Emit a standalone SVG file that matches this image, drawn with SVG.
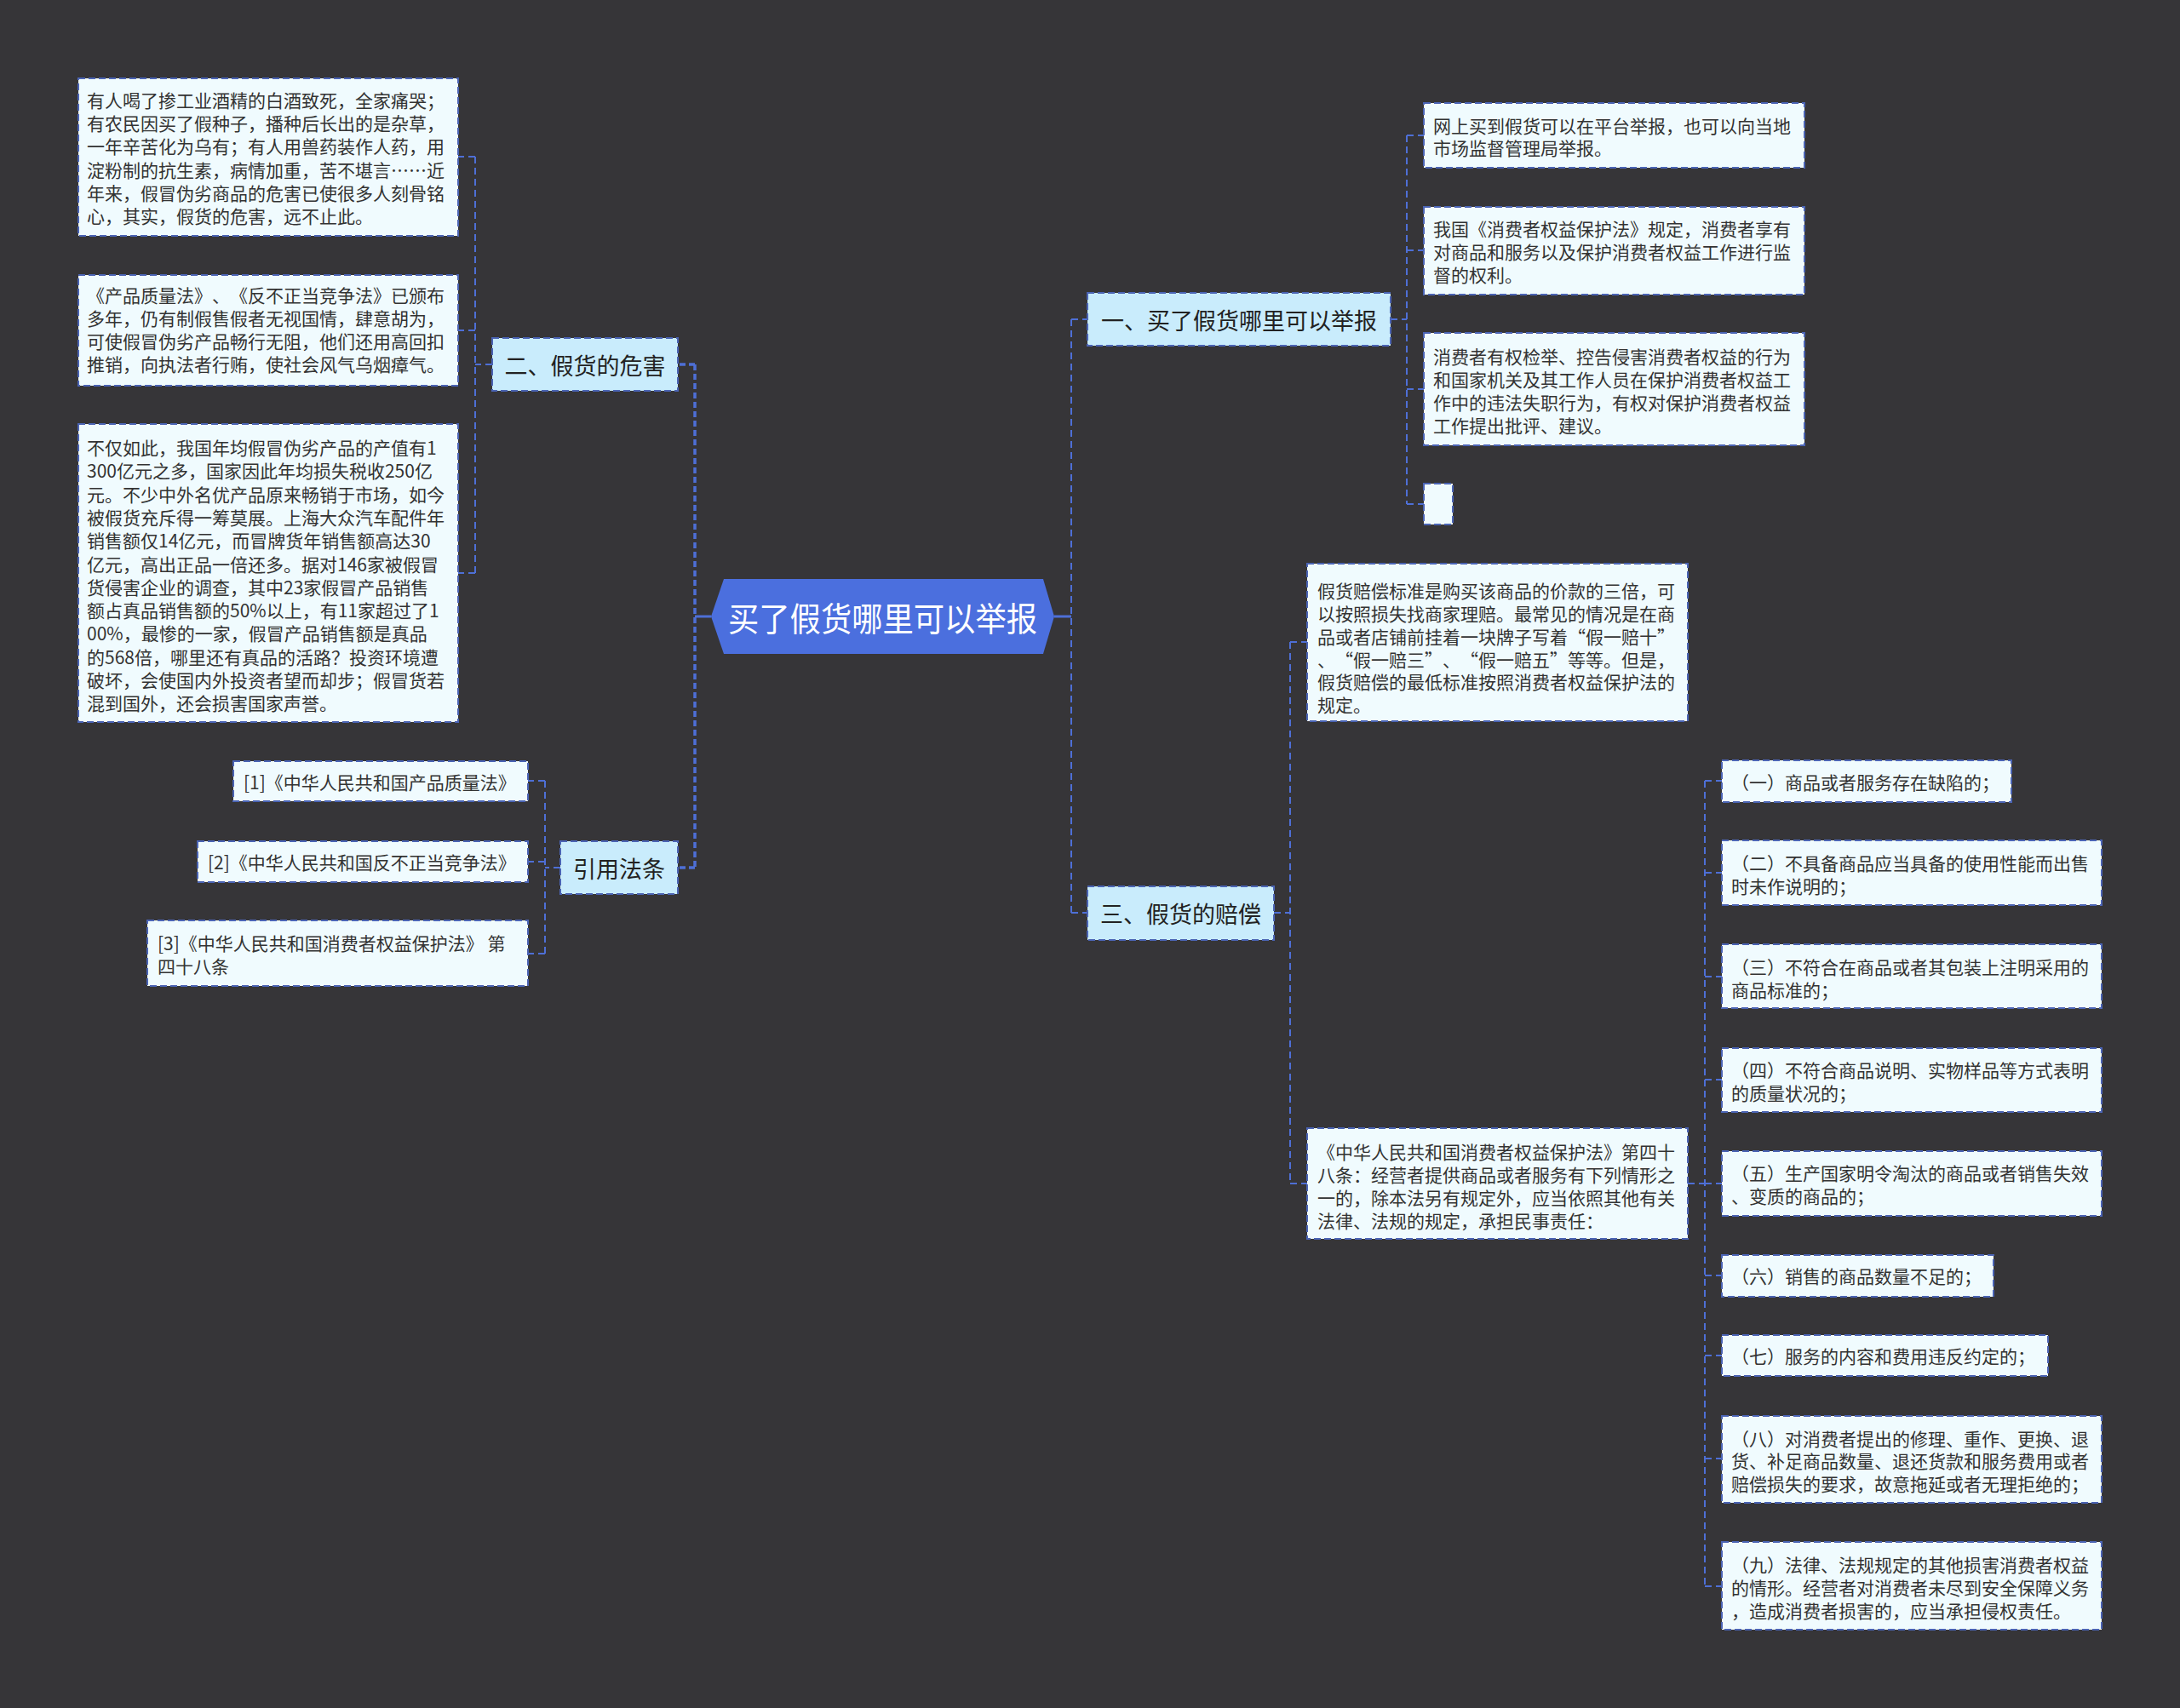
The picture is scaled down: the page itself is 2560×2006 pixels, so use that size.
<svg xmlns="http://www.w3.org/2000/svg" width="2560" height="2006" viewBox="0 0 2560 2006">
<style>
.bg{fill:#363538}
.leaf rect{fill:#f0fbfe;stroke:#4b64b4;stroke-width:2;stroke-dasharray:8 4}
.l1 rect{fill:#c9ecfc;stroke:#4b64b4;stroke-width:2;stroke-dasharray:8 4}
text{text-spacing-trim:space-all}
.t{font-family:"Noto Sans CJK SC","Noto Sans",sans-serif;font-size:21px;fill:#333333;dominant-baseline:central}
.t1{font-family:"Noto Sans CJK SC","Noto Sans",sans-serif;font-size:27px;fill:#222222;dominant-baseline:central;text-anchor:middle}
.t0{font-family:"Noto Sans CJK SC","Noto Sans",sans-serif;font-size:39px;fill:#ffffff;dominant-baseline:central}
.conn path{fill:none;stroke:#4e6fd6;stroke-width:2;stroke-dasharray:8 5}
.conn path.thick{stroke-width:3.5;stroke-dasharray:7 4}
.conn path.solid{stroke-dasharray:none;stroke-width:3}
</style>
<rect class="bg" x="0" y="0" width="2560" height="2006"/>

<g id="connectors" class="conn">
  <path class="solid" d="M835 724 H816"/>
  <path class="thick" d="M816 428 V1019 M816 428 H796 M816 1019 H796"/>
  <path d="M578 428 H558 M558 184 V673 M558 184 H538 M558 388 H538 M558 673 H538"/>
  <path d="M658 1019 H640 M640 917 V1120 M640 917 H620 M640 1012 H620 M640 1120 H620"/>
  <path class="solid" d="M1238 724 H1258"/>
  <path d="M1258 375 V1072 M1258 375 H1277 M1258 1072 H1277"/>
  <path d="M1633 375 H1652 M1652 159 V592 M1652 159 H1672 M1652 294 H1672 M1652 457 H1672 M1652 592 H1672"/>
  <path d="M1496 1072 H1515 M1515 754 V1390 M1515 754 H1535 M1515 1390 H1535"/>
  <path d="M1982 1390 H2002 M2002 917 V1863 M2002 917 H2022 M2002 1025 H2022 M2002 1147 H2022 M2002 1268 H2022 M2002 1390 H2022 M2002 1498 H2022 M2002 1592 H2022 M2002 1713 H2022 M2002 1863 H2022"/>
</g>

<g id="root">
  <polygon points="835,724 850,680 1225,680 1238,724 1225,768 850,768" fill="#4b6fde"/>
  <text class="t0" x="855" y="724" textLength="363" lengthAdjust="spacingAndGlyphs">买了假货哪里可以举报</text>
</g>

<g id="n-harm" class="l1">
  <rect x="578" y="397" width="218" height="62"/>
  <text class="t1" x="687" y="428">二、假货的危害</text>
</g>
<g id="n-law" class="l1">
  <rect x="658" y="988" width="138" height="62"/>
  <text class="t1" x="727" y="1019">引用法条</text>
</g>
<g id="n-report" class="l1">
  <rect x="1277" y="344" width="356" height="62"/>
  <text class="t1" x="1455" y="375">一、买了假货哪里可以举报</text>
</g>
<g id="n-comp" class="l1">
  <rect x="1277" y="1041" width="219" height="63"/>
  <text class="t1" x="1386.5" y="1072">三、假货的赔偿</text>
</g>

<g id="harm-1" class="leaf">
  <rect x="92" y="92" width="446" height="185"/>
  <text class="t"><tspan x="102" y="117">有人喝了掺工业酒精的白酒致死，全家痛哭；</tspan><tspan x="102" y="144.2">有农民因买了假种子，播种后长出的是杂草，</tspan><tspan x="102" y="171.4">一年辛苦化为乌有；有人用兽药装作人药，用</tspan><tspan x="102" y="198.6">淀粉制的抗生素，病情加重，苦不堪言……近</tspan><tspan x="102" y="225.8">年来，假冒伪劣商品的危害已使很多人刻骨铭</tspan><tspan x="102" y="253">心，其实，假货的危害，远不止此。</tspan></text>
</g>
<g id="harm-2" class="leaf">
  <rect x="92" y="323" width="446" height="130"/>
  <text class="t"><tspan x="102" y="346">《产品质量法》、《反不正当竞争法》已颁布</tspan><tspan x="102" y="373">多年，仍有制假售假者无视国情，肆意胡为，</tspan><tspan x="102" y="400">可使假冒伪劣产品畅行无阻，他们还用高回扣</tspan><tspan x="102" y="427">推销，向执法者行贿，使社会风气乌烟瘴气。</tspan></text>
</g>
<g id="harm-3" class="leaf">
  <rect x="92" y="498" width="446" height="350"/>
  <text class="t"><tspan x="102" y="525">不仅如此，我国年均假冒伪劣产品的产值有1</tspan><tspan x="102" y="552.3">300亿元之多，国家因此年均损失税收250亿</tspan><tspan x="102" y="579.6">元。不少中外名优产品原来畅销于市场，如今</tspan><tspan x="102" y="606.9">被假货充斥得一筹莫展。上海大众汽车配件年</tspan><tspan x="102" y="634.2">销售额仅14亿元，而冒牌货年销售额高达30</tspan><tspan x="102" y="661.5">亿元，高出正品一倍还多。据对146家被假冒</tspan><tspan x="102" y="688.8">货侵害企业的调查，其中23家假冒产品销售</tspan><tspan x="102" y="716.1">额占真品销售额的50%以上，有11家超过了1</tspan><tspan x="102" y="743.4">00%，最惨的一家，假冒产品销售额是真品</tspan><tspan x="102" y="770.7">的568倍，哪里还有真品的活路？投资环境遭</tspan><tspan x="102" y="798">破坏，会使国内外投资者望而却步；假冒货若</tspan><tspan x="102" y="825.3">混到国外，还会损害国家声誉。</tspan></text>
</g>

<g id="law-1" class="leaf">
  <rect x="274" y="894" width="346" height="47"/>
  <text class="t" x="286" y="918">[1]《中华人民共和国产品质量法》</text>
</g>
<g id="law-2" class="leaf">
  <rect x="232" y="988" width="388" height="48"/>
  <text class="t" x="244" y="1012">[2]《中华人民共和国反不正当竞争法》</text>
</g>
<g id="law-3" class="leaf">
  <rect x="173" y="1081" width="447" height="77"/>
  <text class="t"><tspan x="185" y="1107">[3]《中华人民共和国消费者权益保护法》 第</tspan><tspan x="185" y="1134">四十八条</tspan></text>
</g>

<g id="report-1" class="leaf">
  <rect x="1672" y="121" width="447" height="76"/>
  <text class="t"><tspan x="1683" y="147">网上买到假货可以在平台举报，也可以向当地</tspan><tspan x="1683" y="173">市场监督管理局举报。</tspan></text>
</g>
<g id="report-2" class="leaf">
  <rect x="1672" y="243" width="447" height="103"/>
  <text class="t"><tspan x="1683" y="268">我国《消费者权益保护法》规定，消费者享有</tspan><tspan x="1683" y="295">对商品和服务以及保护消费者权益工作进行监</tspan><tspan x="1683" y="322">督的权利。</tspan></text>
</g>
<g id="report-3" class="leaf">
  <rect x="1672" y="391" width="447" height="132"/>
  <text class="t"><tspan x="1683" y="418">消费者有权检举、控告侵害消费者权益的行为</tspan><tspan x="1683" y="445">和国家机关及其工作人员在保护消费者权益工</tspan><tspan x="1683" y="472">作中的违法失职行为，有权对保护消费者权益</tspan><tspan x="1683" y="499">工作提出批评、建议。</tspan></text>
</g>
<g id="report-4" class="leaf">
  <rect x="1672" y="568" width="34" height="48"/>
</g>

<g id="comp-1" class="leaf">
  <rect x="1535" y="662" width="447" height="185"/>
  <text class="t"><tspan x="1547" y="693">假货赔偿标准是购买该商品的价款的三倍，可</tspan><tspan x="1547" y="720">以按照损失找商家理赔。最常见的情况是在商</tspan><tspan x="1547" y="747">品或者店铺前挂着一块牌子写着“假一赔十”</tspan><tspan x="1547" y="774">、“假一赔三”、“假一赔五”等等。但是，</tspan><tspan x="1547" y="800">假货赔偿的最低标准按照消费者权益保护法的</tspan><tspan x="1547" y="827">规定。</tspan></text>
</g>
<g id="comp-2" class="leaf">
  <rect x="1535" y="1325" width="447" height="130"/>
  <text class="t"><tspan x="1547" y="1352">《中华人民共和国消费者权益保护法》第四十</tspan><tspan x="1547" y="1379">八条：经营者提供商品或者服务有下列情形之</tspan><tspan x="1547" y="1406">一的，除本法另有规定外，应当依照其他有关</tspan><tspan x="1547" y="1433">法律、法规的规定，承担民事责任：</tspan></text>
</g>

<g id="item-1" class="leaf">
  <rect x="2022" y="893" width="340" height="49"/>
  <text class="t" x="2033" y="918">（一）商品或者服务存在缺陷的；</text>
</g>
<g id="item-2" class="leaf">
  <rect x="2022" y="987" width="446" height="76"/>
  <text class="t"><tspan x="2033" y="1013">（二）不具备商品应当具备的使用性能而出售</tspan><tspan x="2033" y="1040">时未作说明的；</tspan></text>
</g>
<g id="item-3" class="leaf">
  <rect x="2022" y="1109" width="446" height="75"/>
  <text class="t"><tspan x="2033" y="1135">（三）不符合在商品或者其包装上注明采用的</tspan><tspan x="2033" y="1162">商品标准的；</tspan></text>
</g>
<g id="item-4" class="leaf">
  <rect x="2022" y="1231" width="446" height="75"/>
  <text class="t"><tspan x="2033" y="1256">（四）不符合商品说明、实物样品等方式表明</tspan><tspan x="2033" y="1283">的质量状况的；</tspan></text>
</g>
<g id="item-5" class="leaf">
  <rect x="2022" y="1352" width="446" height="76"/>
  <text class="t"><tspan x="2033" y="1377">（五）生产国家明令淘汰的商品或者销售失效</tspan><tspan x="2033" y="1404">、变质的商品的；</tspan></text>
</g>
<g id="item-6" class="leaf">
  <rect x="2022" y="1474" width="319" height="49"/>
  <text class="t" x="2033" y="1498">（六）销售的商品数量不足的；</text>
</g>
<g id="item-7" class="leaf">
  <rect x="2022" y="1568" width="383" height="48"/>
  <text class="t" x="2033" y="1592">（七）服务的内容和费用违反约定的；</text>
</g>
<g id="item-8" class="leaf">
  <rect x="2022" y="1663" width="446" height="102"/>
  <text class="t"><tspan x="2033" y="1689">（八）对消费者提出的修理、重作、更换、退</tspan><tspan x="2033" y="1715">货、补足商品数量、退还货款和服务费用或者</tspan><tspan x="2033" y="1742">赔偿损失的要求，故意拖延或者无理拒绝的；</tspan></text>
</g>
<g id="item-9" class="leaf">
  <rect x="2022" y="1811" width="446" height="103"/>
  <text class="t"><tspan x="2033" y="1837">（九）法律、法规规定的其他损害消费者权益</tspan><tspan x="2033" y="1864">的情形。经营者对消费者未尽到安全保障义务</tspan><tspan x="2033" y="1891">，造成消费者损害的，应当承担侵权责任。</tspan></text>
</g>
</svg>
